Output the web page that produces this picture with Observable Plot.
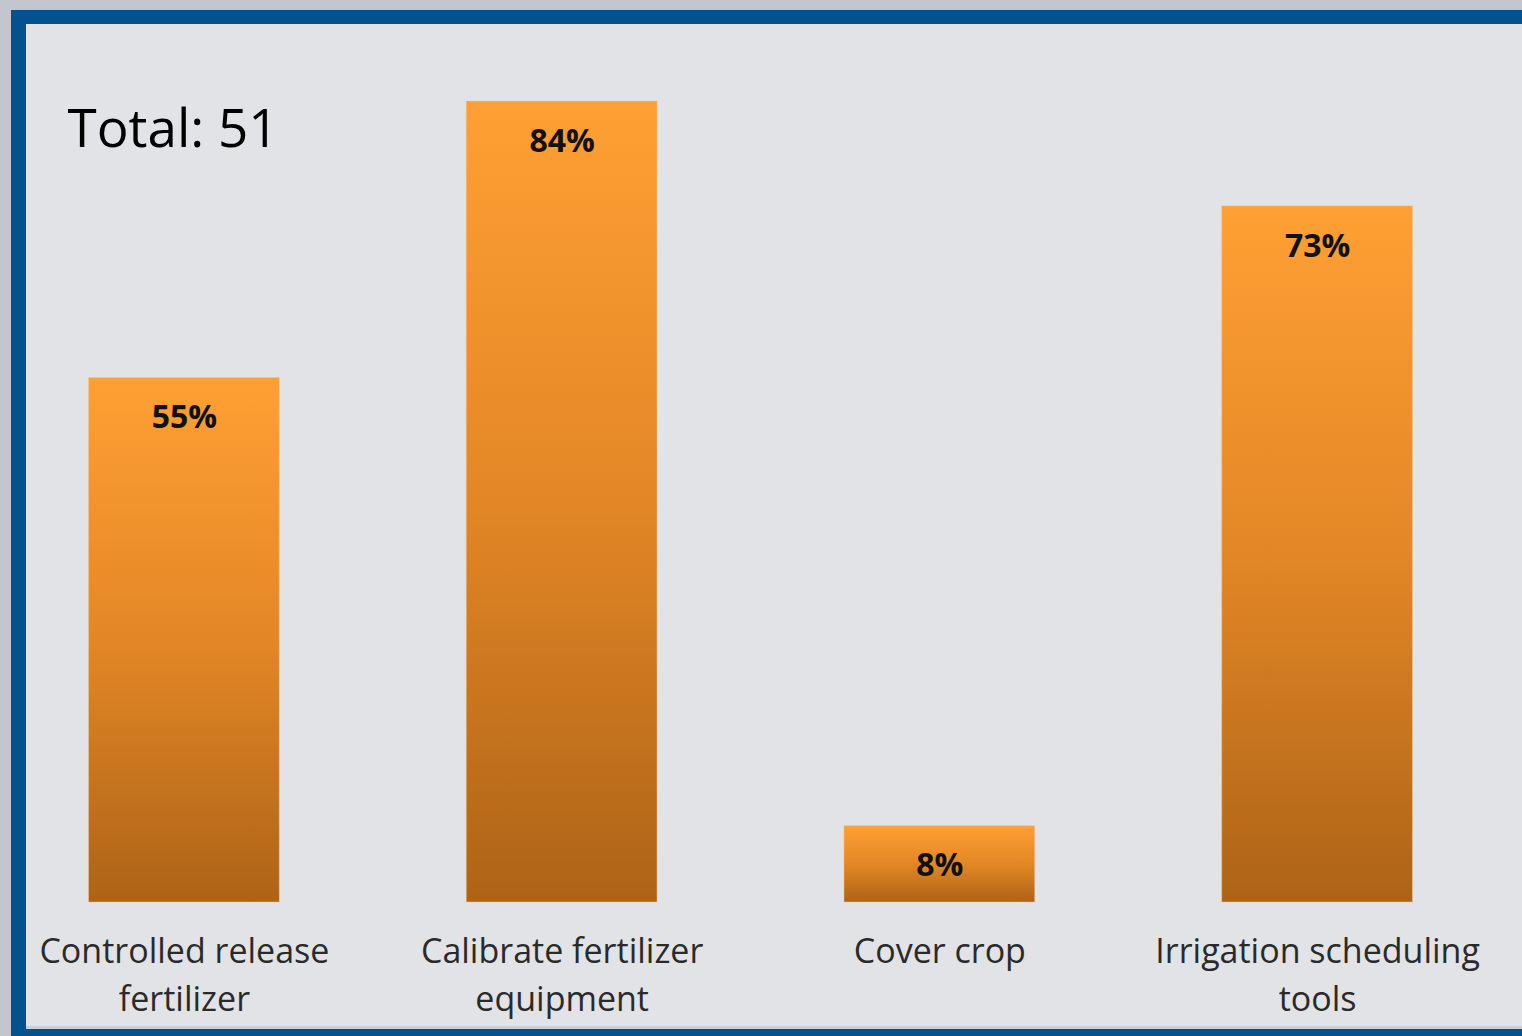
<!DOCTYPE html>
<html>
<head>
<meta charset="utf-8">
<script src="https://cdn.jsdelivr.net/npm/d3@7"></script>
<script src="https://cdn.jsdelivr.net/npm/@observablehq/plot@0.6"></script>
<style>
  html, body { margin: 0; padding: 0; background: #c3c6ce; width: 1522px; height: 1036px; overflow: hidden; }
  #frame { position: absolute; left: 11px; top: 10px; width: 1530px; height: 1026px; background: #02528f; }
  #inner { position: absolute; left: 15px; top: 14px; right: 0; height: 1002px; background: #e2e3e7; border-bottom: 3px solid #cdd0d6; }
  #chart { position: absolute; left: 0; top: 0; }
</style>
</head>
<body>
<div id="frame"><div id="inner"></div></div>
<div id="chart"></div>
<script>
const categories = ["Controlled release\nfertilizer", "Calibrate fertilizer\nequipment", "Cover crop", "Irrigation scheduling\ntools"];
const values = [55, 84, 8, 73];
const totalLabel = ["Total: 51"];

const data = categories.map((c, i) => ({category: c, value: values[i]}));

const plot = Plot.plot({
  width: 1522,
  height: 1036,
  marginTop: 101,
  marginBottom: 134,
  marginLeft: 13,
  marginRight: 34,
  style: {background: "transparent", overflow: "visible"},
  x: {domain: categories, paddingInner: 0.495, paddingOuter: 0.2, round: false, axis: null},
  y: {domain: [0, d3.max(values)], axis: null},
  marks: [
    () => {
      const svg = d3.create("svg:defs");
      const g = svg.append("linearGradient").attr("id", "barGrad").attr("x1", 0).attr("y1", 0).attr("x2", 0).attr("y2", 1);
      g.append("stop").attr("offset", "0%").attr("stop-color", "#ffa034");
      g.append("stop").attr("offset", "50%").attr("stop-color", "#e38726");
      g.append("stop").attr("offset", "100%").attr("stop-color", "#ad6317");
      return svg.node();
    },
    Plot.barY(data, {x: "category", y: "value", fill: "url(#barGrad)", stroke: "#f2c38e", strokeOpacity: 0.5, strokeWidth: 1}),
    Plot.text(data, {x: "category", y: "value", text: d => d.value + "%", dy: 40, lineAnchor: "middle", fontSize: 32, fontWeight: "bold", fill: "#111", fontFamily: "Open Sans"}),
    Plot.text(data, {x: "category", y: 0, text: "category", dy: 26, lineAnchor: "top", lineHeight: 1.42, fontSize: 34, fill: "#2a2a2a", fontFamily: "Open Sans"}),
    Plot.text(totalLabel, {frameAnchor: "top-left", textAnchor: "start", lineAnchor: "top", dx: 54, dy: 8, fontSize: 53, fill: "#000", fontFamily: "Open Sans"})
  ]
});
document.getElementById("chart").appendChild(plot);
</script>
</body>
</html>
